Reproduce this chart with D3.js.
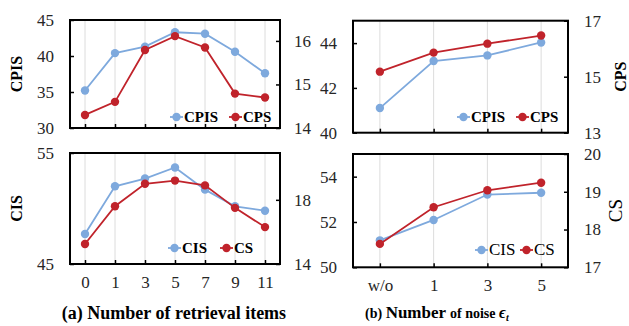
<!DOCTYPE html>
<html>
<head>
<meta charset="utf-8">
<script src="https://cdn.jsdelivr.net/npm/d3@7/dist/d3.min.js"></script>
<style>
  body { margin: 0; background: #fff; }
  svg { display: block; font-family: "Liberation Serif", "DejaVu Serif", serif; }
</style>
</head>
<body>
<div id="chart"></div>
<script>
// categories
const retrievalItems = ["0", "1", "3", "5", "7", "9", "11"];
const noiseSteps = ["w/o", "1", "3", "5"];

// (a) number of retrieval items
const cpisA = [35.2, 40.4, 41.3, 43.3, 43.1, 40.6, 37.6];
const cpsA  = [14.30, 14.60, 15.79, 16.11, 15.85, 14.79, 14.70];
const cisA  = [47.7, 52.0, 52.7, 53.7, 51.7, 50.2, 49.8];
const csA   = [15.25, 17.6, 19.0, 19.2, 18.9, 17.5, 16.3];

// (b) number of noise
const cpisB = [41.1, 43.2, 43.45, 44.03];
const cpsB  = [15.18, 15.86, 16.18, 16.47];
const cisB  = [51.19, 52.09, 53.21, 53.29];
const csB   = [17.62, 18.59, 19.04, 19.24];

// tick labels
const ticksA1L = [30, 35, 40, 45], ticksA1R = [14, 15, 16];
const ticksA2L = [45, 55],         ticksA2R = [14, 18];
const ticksB1L = [40, 42, 44],     ticksB1R = [13, 15, 17];
const ticksB2L = [50, 52, 54],     ticksB2R = [17, 18, 19, 20];

const BLUE = "#7ea9dd", RED = "#c0232b";
const FONT = "Liberation Serif";

const svg = d3.select("#chart").append("svg")
  .attr("width", 629).attr("height", 326);

function panel(o) {
  const g = svg.append("g");
  const x = d3.scalePoint().domain(o.cats).range([o.x0, o.x1]).padding(0.5);
  const yL = d3.scaleLinear().domain(o.domL).range([o.y1, o.y0]);
  const yR = d3.scaleLinear().domain(o.domR).range([o.y1, o.y0]);

  // gridlines
  g.selectAll(".grid").data(o.cats).enter().append("line")
    .attr("x1", d => x(d)).attr("x2", d => x(d))
    .attr("y1", o.y0).attr("y2", o.y1)
    .attr("stroke", "#dcdcdc").attr("stroke-width", 1);

  // axes
  const fmt = d3.format("d");
  const axL = g.append("g").attr("transform", `translate(${o.x0},0)`)
    .call(d3.axisLeft(yL).tickValues(o.ticksL).tickFormat(fmt).tickSize(-4).tickPadding(o.padL));
  const axR = g.append("g").attr("transform", `translate(${o.x1},0)`)
    .call(d3.axisRight(yR).tickValues(o.ticksR).tickFormat(fmt).tickSize(-4).tickPadding(o.padR));
  const axB = g.append("g").attr("transform", `translate(0,${o.y1})`)
    .call(d3.axisBottom(x).tickSize(-4).tickPadding(o.padB).tickFormat(o.xlabels ? d => d : () => ""));
  [axL, axR, axB].forEach(a => {
    a.attr("font-family", FONT).attr("font-size", 17);
    a.select(".domain").remove();
    a.selectAll("line").attr("stroke", "#000").attr("stroke-width", 1.5);
    a.selectAll("text").attr("fill", "#262626");
  });

  // frame
  g.append("rect").attr("x", o.x0).attr("y", o.y0)
    .attr("width", o.x1 - o.x0).attr("height", o.y1 - o.y0)
    .attr("fill", "none").attr("stroke", "#000").attr("stroke-width", 2);

  // series
  const series = [
    { vals: o.left, y: yL, color: BLUE },
    { vals: o.right, y: yR, color: RED }
  ];
  series.forEach(s => {
    const line = d3.line().x((d, i) => x(o.cats[i])).y(d => s.y(d));
    g.append("path").attr("d", line(s.vals)).attr("fill", "none")
      .attr("stroke", s.color).attr("stroke-width", 1.8);
    g.selectAll(null).data(s.vals).enter().append("circle")
      .attr("cx", (d, i) => x(o.cats[i])).attr("cy", d => s.y(d))
      .attr("r", 4.2).attr("fill", s.color);
  });

  // legend
  o.legend.forEach(l => {
    g.append("line").attr("x1", l.x).attr("x2", l.x + 13)
      .attr("y1", o.legY).attr("y2", o.legY)
      .attr("stroke", l.color).attr("stroke-width", 1.8);
    g.append("circle").attr("cx", l.x + 6.5).attr("cy", o.legY).attr("r", 4.2).attr("fill", l.color);
    g.append("text").attr("x", l.x + 14).attr("y", o.legY + 5)
      .style("font-size", o.legSize).style("font-weight", o.legWeight)
      .attr("fill", "#000").text(l.name);
  });

  // axis titles
  if (o.titleL) {
    svg.append("text").attr("transform", `translate(${o.titleLx},${(o.y0 + o.y1) / 2}) rotate(-90)`)
      .attr("text-anchor", "middle").style("font-size", "16px").style("font-weight", "bold")
      .text(o.titleL);
  }
  if (o.titleR) {
    svg.append("text").attr("transform", `translate(${o.titleRx},${(o.y0 + o.y1) / 2}) rotate(-90)`)
      .attr("text-anchor", "middle").style("font-size", o.titleRSize || "16px")
      .style("font-weight", o.titleRWeight || "bold")
      .text(o.titleR);
  }
}

panel({
  cats: retrievalItems, x0: 70, x1: 280, y0: 20, y1: 128,
  domL: [30, 45], domR: [14, 16.48], ticksL: ticksA1L, ticksR: ticksA1R,
  padL: 16, padR: 14, padB: 10, xlabels: false,
  left: cpisA, right: cpsA, legY: 117, legSize: "15px", legWeight: "bold",
  legend: [{ x: 170, name: "CPIS", color: BLUE }, { x: 229, name: "CPS", color: RED }],
  titleL: "CPIS", titleLx: 22
});
panel({
  cats: retrievalItems, x0: 70, x1: 280, y0: 153, y1: 264,
  domL: [45, 55], domR: [14, 20.92], ticksL: ticksA2L, ticksR: ticksA2R,
  padL: 16, padR: 14, padB: 12, xlabels: true,
  left: cisA, right: csA, legY: 248, legSize: "15px", legWeight: "bold",
  legend: [{ x: 168, name: "CIS", color: BLUE }, { x: 220, name: "CS", color: RED }],
  titleL: "CIS", titleLx: 22
});
panel({
  cats: noiseSteps, x0: 353, x1: 568, y0: 20.7, y1: 132.7,
  domL: [40, 45], domR: [13, 17], ticksL: ticksB1L, ticksR: ticksB1R,
  padL: 16, padR: 16, padB: 10, xlabels: false,
  left: cpisB, right: cpsB, legY: 117, legSize: "15px", legWeight: "bold",
  legend: [{ x: 457, name: "CPIS", color: BLUE }, { x: 516, name: "CPS", color: RED }],
  titleR: "CPS", titleRx: 626
});
panel({
  cats: noiseSteps, x0: 353, x1: 568, y0: 154, y1: 267.3,
  domL: [50, 55], domR: [17, 20], ticksL: ticksB2L, ticksR: ticksB2R,
  padL: 16, padR: 16, padB: 12, xlabels: true,
  left: cisB, right: csB, legY: 250, legSize: "17px", legWeight: "normal",
  legend: [{ x: 475, name: "CIS", color: BLUE }, { x: 520, name: "CS", color: RED }],
  titleR: "CS", titleRx: 622, titleRSize: "19px", titleRWeight: "normal"
});

// panel captions
svg.append("text").attr("x", 174).attr("y", 319).attr("text-anchor", "middle")
  .style("font-size", "18px").style("font-weight", "bold")
  .text("(a) Number of retrieval items");

const capB = svg.append("text").attr("x", 365).attr("y", 318)
  .style("font-weight", "bold");
capB.append("tspan").style("font-size", "14px").text("(b) ");
capB.append("tspan").style("font-size", "17px").text("Number ");
capB.append("tspan").style("font-size", "14px").text("of noise ");
capB.append("tspan").style("font-size", "16px").style("font-style", "italic").text("ϵ");
capB.append("tspan").style("font-size", "10px").style("font-style", "italic").attr("dy", 3).text("t");
</script>
</body>
</html>
